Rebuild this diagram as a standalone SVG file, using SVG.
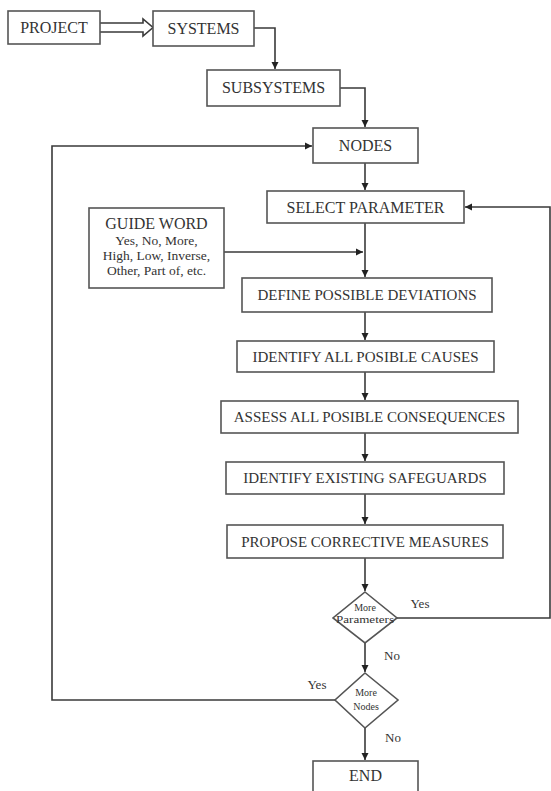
<svg xmlns="http://www.w3.org/2000/svg" width="551" height="791" viewBox="0 0 551 791">
<style>
.box{fill:#fff;stroke:#555;stroke-width:1.6}
.t{font-family:"Liberation Serif","Times New Roman",serif;fill:#333;text-anchor:middle}
.b16{font-size:16px}
.b15{font-size:15px}
.s{font-size:13px}
.g{font-size:13.5px}
.d{font-size:10px}
.c{fill:none;stroke:#3a3a3a;stroke-width:1.6}
</style>
<defs>
<marker id="ah" markerWidth="8" markerHeight="8" refX="7" refY="4" orient="auto" markerUnits="userSpaceOnUse">
<path d="M0,0.5 L7,4 L0,7.5 Z" fill="#222"/>
</marker>
</defs>
<rect width="551" height="791" fill="#fff"/>
<g id="connectors">
<path class="c" d="M100,23 H143 V19 L153,27.5 L143,36 V32 H100" fill="#fff"/>
<path class="c" d="M254,28 H275 V69" marker-end="url(#ah)"/>
<path class="c" d="M340,88 H365 V127" marker-end="url(#ah)"/>
<path class="c" d="M335,700 H52 V146 H312" marker-end="url(#ah)"/>
<path class="c" d="M365,163 V190" marker-end="url(#ah)"/>
<path class="c" d="M397,618 H550 V207 H465" marker-end="url(#ah)"/>
<path class="c" d="M365,223 V277" marker-end="url(#ah)"/>
<path class="c" d="M224,252 H363" marker-end="url(#ah)"/>
<path class="c" d="M365,312 V340" marker-end="url(#ah)"/>
<path class="c" d="M365,372 V400" marker-end="url(#ah)"/>
<path class="c" d="M365,433 V461" marker-end="url(#ah)"/>
<path class="c" d="M365,494 V524" marker-end="url(#ah)"/>
<path class="c" d="M365,558 V591" marker-end="url(#ah)"/>
<path class="c" d="M365,643 V672" marker-end="url(#ah)"/>
<path class="c" d="M365,728 V760" marker-end="url(#ah)"/>
</g>
<g id="project"><rect class="box" x="8" y="11" width="92" height="33"/><text class="t b16" x="54" y="33">PROJECT</text></g>
<g id="systems"><rect class="box" x="153" y="11" width="101" height="35"/><text class="t b16" x="203.5" y="34">SYSTEMS</text></g>
<g id="subsystems"><rect class="box" x="207" y="70" width="133" height="36"/><text class="t b16" x="273.5" y="93">SUBSYSTEMS</text></g>
<g id="nodes"><rect class="box" x="313" y="128" width="105" height="35"/><text class="t b16" x="365.5" y="151">NODES</text></g>
<g id="select"><rect class="box" x="267" y="191" width="197" height="32"/><text class="t b16" x="365.5" y="213">SELECT PARAMETER</text></g>
<g id="guide"><rect class="box" x="89" y="208" width="135" height="80"/>
<text class="t b16" x="156.5" y="229">GUIDE WORD</text>
<text class="t g" x="156.5" y="245">Yes, No, More,</text>
<text class="t g" x="156.5" y="260">High, Low, Inverse,</text>
<text class="t g" x="156.5" y="275">Other, Part of, etc.</text></g>
<g id="define"><rect class="box" x="242" y="278" width="250" height="34"/><text class="t b15" x="367" y="300">DEFINE POSSIBLE DEVIATIONS</text></g>
<g id="causes"><rect class="box" x="237" y="341" width="257" height="31"/><text class="t b15" x="365.5" y="362">IDENTIFY ALL POSIBLE CAUSES</text></g>
<g id="consequences"><rect class="box" x="221" y="401" width="297" height="32"/><text class="t b15" x="369.5" y="422">ASSESS ALL POSIBLE CONSEQUENCES</text></g>
<g id="safeguards"><rect class="box" x="226" y="462" width="278" height="32"/><text class="t b15" x="365" y="483">IDENTIFY EXISTING SAFEGUARDS</text></g>
<g id="measures"><rect class="box" x="227" y="525" width="276" height="33"/><text class="t b15" x="365" y="547">PROPOSE CORRECTIVE MEASURES</text></g>
<g id="moreparams"><path class="box" d="M365,592 L397,618 L365,643 L333,618 Z"/>
<text class="t d" x="365" y="611">More</text>
<text class="t d" x="365" y="623" textLength="58" lengthAdjust="spacingAndGlyphs">Parameters</text></g>
<g id="morenodes"><path class="box" d="M365,673 L398,700 L365,728 L335,700 Z"/>
<text class="t d" x="366" y="696">More</text>
<text class="t d" x="366" y="710">Nodes</text></g>
<g id="end"><rect class="box" x="313" y="761" width="105" height="40"/><text class="t b16" x="365.5" y="781">END</text></g>
<g id="labels">
<text class="t s" x="420" y="608">Yes</text>
<text class="t s" x="392" y="660">No</text>
<text class="t s" x="317" y="689">Yes</text>
<text class="t s" x="393" y="742">No</text>
</g>
</svg>
